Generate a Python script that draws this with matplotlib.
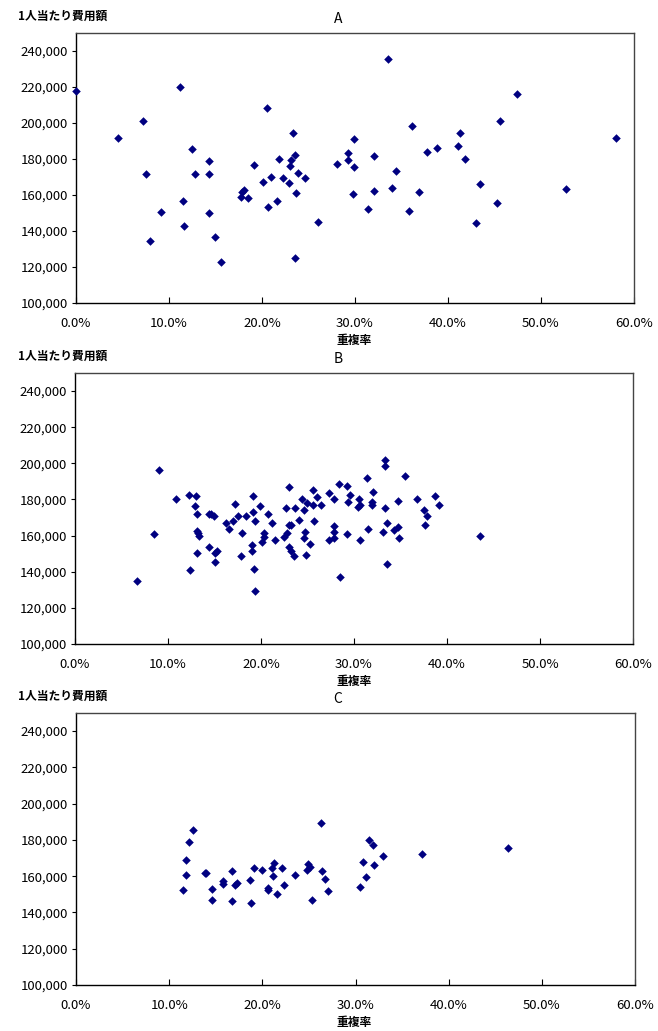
import matplotlib
matplotlib.use("Agg")
import matplotlib.pyplot as plt
from matplotlib.ticker import FuncFormatter, MultipleLocator

plt.rcParams['font.family'] = ['Noto Sans CJK JP', 'DejaVu Sans']

# 重複率 (%) と 1人当たり費用額 (円)
a_rate = [0.0, 4.5, 7.2, 7.5, 8.0, 9.1, 11.2, 11.5, 11.6, 12.5, 12.8, 14.3, 14.3, 14.3,
          14.9, 15.6, 17.7, 17.8, 18.1, 18.5, 19.1, 20.1, 20.5, 20.6, 21.0, 21.6, 21.8,
          22.3, 22.9, 23.0, 23.1, 23.3, 23.5, 23.7, 23.6, 23.9, 24.6, 26.0,
          33.5, 47.4, 45.6, 36.1, 41.3, 29.9, 58.1, 41.1, 38.8, 37.7, 29.2, 32.0, 28.1,
          29.2, 29.9, 41.8, 34.4, 43.4, 34.0, 32.0, 36.9, 29.8, 52.7, 31.4, 35.8, 45.3, 43.0]
a_cost = [217700, 191400, 200900, 171800, 134700, 150800, 220000, 156600, 143000, 185300,
          171800, 179000, 171800, 149900, 136900, 122800, 158800, 161700, 162900, 158200,
          176600, 167100, 208100, 153200, 170100, 156600, 180100, 169300, 166600, 176200,
          179700, 194200, 182000, 161000, 125000, 172300, 169300, 145200,
          235700, 216100, 200900, 198600, 194200, 190900, 191400, 187300, 185900, 184000,
          183100, 181800, 177500, 179500, 175700, 180100, 173400, 166200, 163800, 162400,
          161600, 160500, 163200, 152100, 151000, 155400, 144700]

b_rate = [6.7, 8.5, 9.0, 10.9, 12.3, 12.4, 13.0, 12.9, 13.1, 13.1, 13.2, 13.3, 13.1, 14.4,
          14.4, 14.6, 14.9, 15.0, 15.1, 15.3, 16.2, 16.6, 17.0, 17.2, 17.5, 18.0, 17.9,
          18.4, 19.1, 19.1, 19.0, 19.0, 19.3, 19.4, 19.4, 19.9, 20.1, 20.3, 20.3, 20.8,
          21.2, 21.5, 22.7, 22.5, 22.8, 23.0, 23.0, 23.2, 23.0, 23.2, 23.5, 23.7, 24.1,
          24.4, 24.6, 24.7, 24.6, 24.8, 24.9, 25.3, 25.6, 25.6, 25.7, 26.0, 26.5, 27.3,
          27.3, 27.8, 27.8, 27.9, 27.8, 28.4, 29.2, 28.5, 29.3, 29.6, 29.4, 30.5, 30.6,
          30.4, 30.6, 31.4, 31.5, 32.0, 31.9, 31.9, 33.3, 33.3, 33.3, 33.1, 33.6, 33.6,
          34.3, 34.7, 34.7, 34.8, 35.5, 36.8, 37.5, 37.9, 37.6, 38.7, 39.1, 43.6]
b_cost = [135100, 161100, 196200, 180000, 182400, 141200, 181800, 176300, 172200, 162400,
          161500, 160000, 150600, 153900, 172000, 171700, 170700, 145600, 150400, 151500,
          166900, 163900, 168300, 177400, 170700, 161300, 148800, 171100, 181800, 173000,
          154700, 151700, 141600, 129600, 168300, 176300, 156700, 161500, 159500, 172200,
          167200, 157800, 175500, 159500, 161500, 186800, 166100, 166100, 153900, 151300,
          148900, 175000, 168900, 180500, 173900, 162200, 158400, 149500, 177800, 155600,
          185500, 177200, 168300, 181100, 177200, 183500, 157800, 180000, 165200, 162200,
          158700, 188300, 187700, 137300, 160800, 182700, 178500, 180500, 177200, 175700,
          157800, 191800, 163900, 184000, 178500, 177200, 201800, 198800, 175000, 162200,
          167200, 144500, 163200, 165000, 178900, 158400, 192900, 180000, 174100, 170600,
          165600, 181800, 177200, 160000]

c_rate = [11.5, 11.8, 11.8, 12.1, 12.6, 13.8, 13.95, 14.6, 14.6, 15.8, 15.8, 16.7, 16.7,
          17.1, 17.3, 18.7, 18.8, 19.1, 20.0, 20.6, 20.6, 21.0, 21.1, 21.3, 21.6, 22.1,
          22.3, 23.5, 24.8, 24.9, 25.1, 25.3, 26.3, 26.4, 26.7, 27.1,
          31.4, 31.9, 32.9, 30.8, 32.0, 31.1, 30.5, 37.1, 46.4]
c_cost = [152400, 160900, 168800, 179100, 185400, 162000, 161500, 153100, 147000, 157400,
          155900, 163100, 146500, 155300, 156400, 158100, 145400, 164700, 163600, 153700,
          152400, 164700, 160300, 167500, 150400, 164700, 155300, 160900, 163600, 167000,
          165300, 147000, 189300, 163100, 158700, 152000,
          179900, 177100, 171000, 167700, 166000, 159800, 154200, 172100, 175300]

panels = [("A", a_rate, a_cost), ("B", b_rate, b_cost), ("C", c_rate, c_cost)]

W, H = 658, 1031
# axes boxes in pixels: left, top, right, bottom
boxes = [(76, 33, 634, 303), (75, 373, 633, 644), (76, 713, 635, 985)]

fig = plt.figure(figsize=(W / 100, H / 100), dpi=100)

for (name, rate, cost), (l, t, r, b) in zip(panels, boxes):
    ax = fig.add_axes([l / W, 1 - b / H, (r - l) / W, (b - t) / H])
    ax.scatter(rate, cost, marker='D', s=19, color='#000080', linewidths=0, zorder=3,
               clip_on=False)
    ax.set_xlim(0, 60)
    ax.set_ylim(100000, 250000)
    ax.xaxis.set_major_locator(MultipleLocator(10))
    ax.yaxis.set_major_locator(MultipleLocator(20000))
    ax.xaxis.set_major_formatter(FuncFormatter(lambda v, p: f"{v:.1f}%"))
    ax.yaxis.set_major_formatter(FuncFormatter(lambda v, p: f"{v:,.0f}" if v <= 240000 else ""))
    ax.tick_params(axis='x', direction='in', length=4, pad=10, labelsize=9.5)
    ax.tick_params(axis='y', direction='out', length=3, pad=3, labelsize=9.5)
    for side in ['left', 'bottom']:
        ax.spines[side].set_color('black')
        ax.spines[side].set_linewidth(1.0)
    for side in ['top', 'right']:
        ax.spines[side].set_color('#444444')
        ax.spines[side].set_linewidth(1.0)

    fig.text(338 / W, 1 - (t - 14) / H, name, ha='center', va='center', fontsize=10)
    fig.text(18 / W, 1 - (t - 17) / H, "1人当たり費用額", ha='left', va='center',
             fontsize=8.5, fontweight='bold')
    fig.text(354 / W, 1 - (b + 37) / H, "重複率", ha='center', va='center',
             fontsize=8.5, fontweight='bold')

fig.savefig("out.png", dpi=100)
